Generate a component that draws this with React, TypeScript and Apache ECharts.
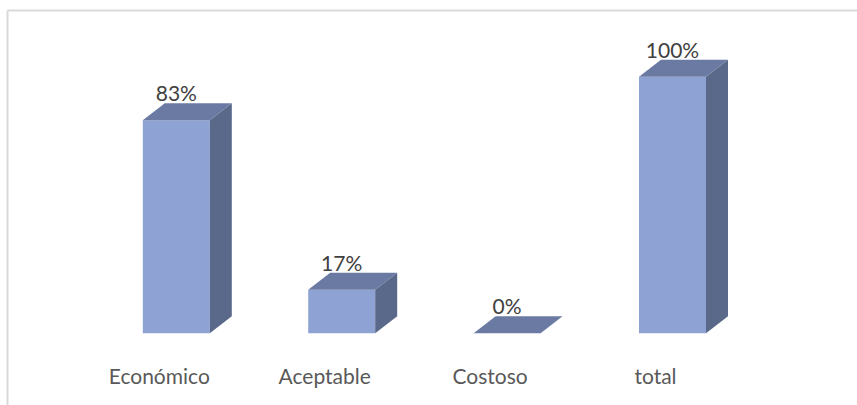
import React, { useEffect, useRef } from "react";
import * as echarts from "echarts";

const categories = ["Económico", "Aceptable", "Costoso", "total"];
const values = [83, 17, 0, 100];

const FRONT = "#8FA2D4";
const TOP = "#6A7AA3";
const SIDE = "#5A688A";

export default function App() {
  const ref = useRef<HTMLDivElement>(null);
  useEffect(() => {
    if (!ref.current) return;
    const chart = echarts.init(ref.current, null, { renderer: "svg" });
    const dx = 22;
    const dy = -17;
    chart.setOption({
      animation: false,
      backgroundColor: "#ffffff",
      grid: { left: 93.6, right: 101.8, top: 76.7, bottom: 71.7, containLabel: false },
      xAxis: {
        type: "category",
        data: categories,
        axisLine: { show: false },
        axisTick: { show: false },
        splitLine: { show: false },
        axisLabel: {
          margin: 32,
          formatter: (v: string) => `{a|${v}}`,
          rich: {
            a: {
              fontFamily: "Lato",
              fontSize: 21,
              color: "#595959",
              padding: [0, 34, 0, 0],
            },
          },
        },
      },
      yAxis: { type: "value", min: 0, max: 100, show: false },
      graphic: [
        { type: "line", shape: { x1: 7.5, y1: 10.5, x2: 857, y2: 10.5 }, style: { stroke: "#D9D9D9", lineWidth: 2 }, silent: true },
        { type: "line", shape: { x1: 7.5, y1: 10.5, x2: 7.5, y2: 405 }, style: { stroke: "#D9D9D9", lineWidth: 2 }, silent: true },
      ],
      series: [
        {
          type: "custom",
          data: values.map((v, i) => [i, v]),
          encode: { x: 0, y: 1 },
          renderItem: (params: any, api: any) => {
            const idx = api.value(0);
            const v = api.value(1);
            const top = api.coord([idx, v]);
            const base = api.coord([idx, 0]);
            const band = api.size([1, 0])[0];
            const w = band * 0.405;
            const x0 = top[0] - w / 2;
            const x1 = top[0] + w / 2;
            const yT = top[1];
            const yB = base[1];
            const children: any[] = [];
            if (yB - yT > 0.5) {
              children.push({
                type: "rect",
                shape: { x: x0, y: yT, width: w, height: yB - yT },
                style: { fill: FRONT },
              });
              children.push({
                type: "polygon",
                shape: { points: [[x1, yT], [x1 + dx, yT + dy], [x1 + dx, yB + dy], [x1, yB]] },
                style: { fill: SIDE },
              });
            }
            children.push({
              type: "polygon",
              shape: { points: [[x0, yT], [x0 + dx, yT + dy], [x1 + dx, yT + dy], [x1, yT]] },
              style: { fill: TOP },
            });
            children.push({
              type: "text",
              x: top[0],
              y: yT + dy - 10.5,
              style: {
                text: `${v}%`,
                fontFamily: "Lato",
                fontSize: 21,
                fill: "#404040",
                align: "center",
                verticalAlign: "middle",
              },
            });
            return { type: "group", children };
          },
        },
      ],
    });
    return () => chart.dispose();
  }, []);
  return (
    <div
      ref={ref}
      style={{ position: "fixed", left: 0, top: 0, width: 857, height: 405 }}
    />
  );
}
